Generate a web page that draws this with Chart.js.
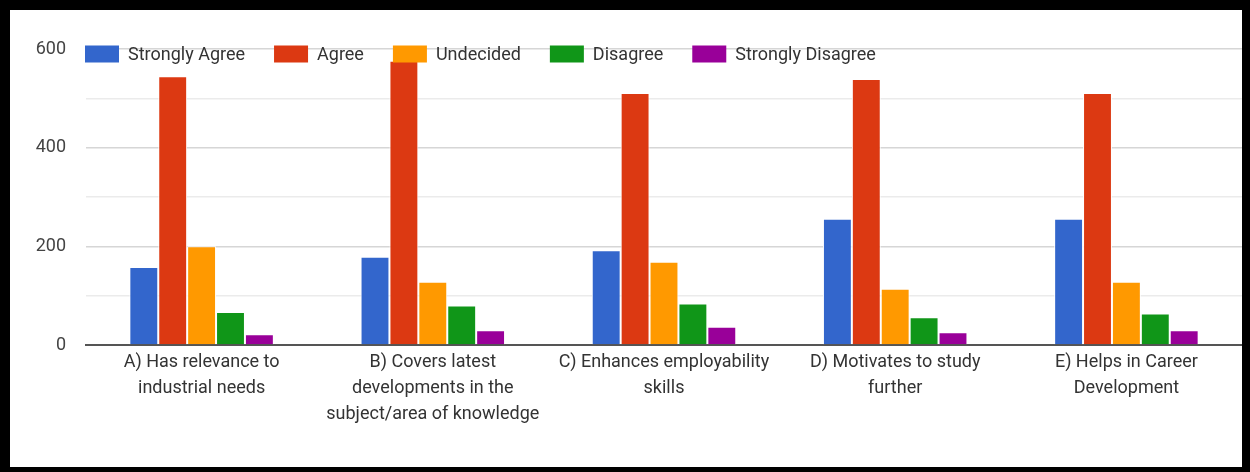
<!DOCTYPE html>
<html>
<head>
<meta charset="utf-8">
<script src="https://cdn.jsdelivr.net/npm/chart.js@4"></script>
<style>
  html, body { margin: 0; padding: 0; background: #000; width: 1250px; height: 472px; overflow: hidden; }
  #wrap { position: absolute; left: 10px; top: 10px; width: 1232px; height: 457px; background: #fff; }
</style>
</head>
<body>
<div id="wrap"><canvas id="c"></canvas></div>
<script>
const categories = [
  ["A) Has relevance to", "industrial needs"],
  ["B) Covers latest", "developments in the", "subject/area of knowledge"],
  ["C) Enhances employability", "skills"],
  ["D) Motivates to study", "further"],
  ["E) Helps in Career", "Development"]
];
const seriesNames = ["Strongly Agree", "Agree", "Undecided", "Disagree", "Strongly Disagree"];
const stronglyAgree = [158, 179, 192, 256, 256];
const agree = [545, 576, 511, 539, 511];
const undecided = [200, 128, 169, 114, 128];
const disagree = [67, 80, 84, 56, 64];
const stronglyDisagree = [22, 30, 37, 26, 30];
const colors = ["#3366cc", "#dc3912", "#ff9900", "#109618", "#990099"];
const yTicks = [0, 200, 400, 600];

const FONT = "Roboto, 'Liberation Sans', Arial, sans-serif";
const values = [stronglyAgree, agree, undecided, disagree, stronglyDisagree];

const legendPlugin = {
  id: 'customLegend',
  afterDraw(chart) {
    const ctx = chart.ctx;
    const area = chart.chartArea;
    ctx.save();
    ctx.font = '18px ' + FONT;
    ctx.textBaseline = 'middle';
    ctx.textAlign = 'left';
    let x = area.left - 1;
    const yc = area.top + 5;
    chart.data.datasets.forEach(ds => {
      ctx.fillStyle = ds.backgroundColor;
      ctx.fillRect(x, yc - 8.5, 34, 17);
      ctx.fillStyle = '#333333';
      ctx.fillText(ds.label, x + 43, yc + 1);
      x += 43 + ctx.measureText(ds.label).width + 29;
    });
    ctx.restore();
  }
};

new Chart(document.getElementById('c'), {
  type: 'bar',
  data: {
    labels: categories,
    datasets: seriesNames.map((name, i) => ({
      label: name,
      data: values[i],
      backgroundColor: colors[i],
      borderColor: '#ffffff',
      borderWidth: 1,
      borderSkipped: 'start',
      categoryPercentage: 0.625,
      barPercentage: 1.0
    }))
  },
  options: {
    responsive: true,
    maintainAspectRatio: false,
    animation: false,
    layout: { padding: { top: 39, left: 0, right: 0, bottom: 0 } },
    plugins: { legend: { display: false }, tooltip: { enabled: false } },
    scales: {
      x: {
        grid: { display: false, drawTicks: false },
        border: { display: true, color: '#555555', width: 2 },
        ticks: {
          padding: 4,
          color: '#333333',
          font: { family: FONT, size: 18, lineHeight: 26 / 18 },
          maxRotation: 0,
          autoSkip: false
        },
        afterFit(scale) { scale.height = 122; }
      },
      y: {
        min: 0,
        max: 600,
        border: { display: false },
        grid: {
          drawTicks: false,
          color: ctx => {
            const v = ctx.tick.value;
            if (v === 0) return 'rgba(0,0,0,0)';
            return yTicks.includes(v) ? '#d6d6d6' : '#ebebeb';
          },
          lineWidth: 1.5
        },
        ticks: {
          stepSize: 100,
          padding: 20,
          color: '#444444',
          font: { family: FONT, size: 18 },
          callback: v => yTicks.includes(v) ? String(v) : ''
        },
        afterFit(scale) { scale.width = 76; }
      }
    }
  },
  plugins: [legendPlugin]
});
</script>
</body>
</html>
